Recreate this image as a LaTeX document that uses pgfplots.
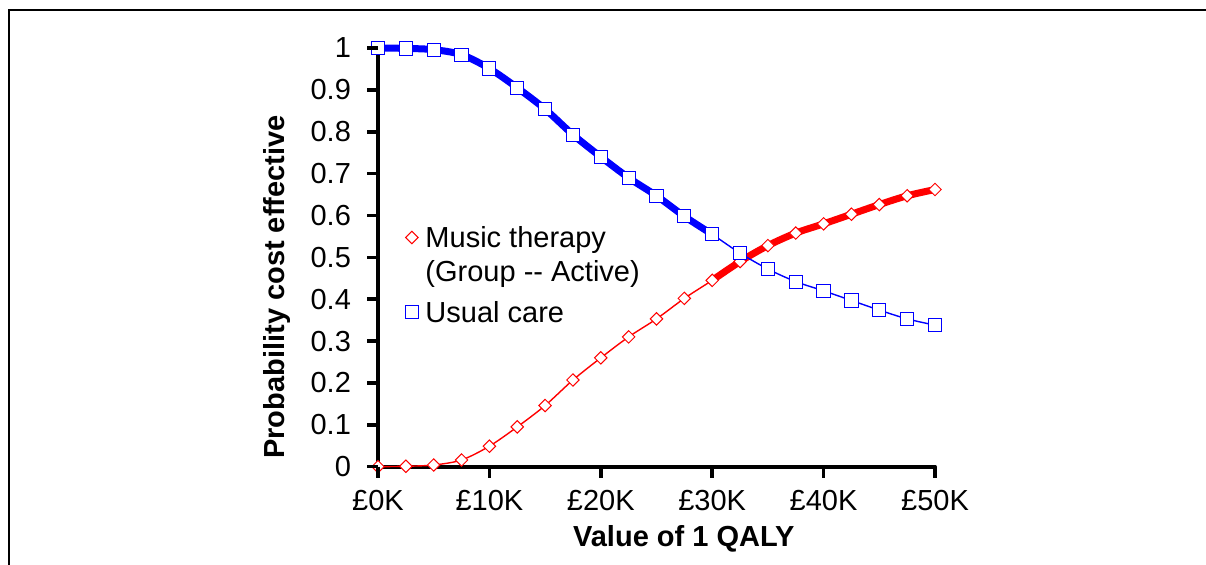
\documentclass[border=0pt]{standalone}
\usepackage{fontspec}
\setmainfont{Liberation Sans}
\usepackage{pgfplots}
\usepackage{pgfplotstable}
\pgfplotsset{compat=1.18}
\definecolor{xred}{RGB}{255,0,0}
\definecolor{xblue}{RGB}{0,0,255}
\newcommand{\lfs}{\fontsize{14.5}{16.7}\selectfont}

\pgfplotstableread{
x    red    blue
0    0.000  1.000
2.5  0.001  0.999
5    0.004  0.996
7.5  0.016  0.984
10   0.049  0.951
12.5 0.095  0.905
15   0.146  0.854
17.5 0.207  0.793
20   0.260  0.740
22.5 0.310  0.690
25   0.353  0.647
27.5 0.402  0.598
30   0.445  0.555
32.5 0.490  0.510
35   0.528  0.472
37.5 0.558  0.442
40   0.580  0.420
42.5 0.603  0.397
45   0.626  0.374
47.5 0.647  0.353
50   0.662  0.338
}\datatab

\begin{document}
\begin{tikzpicture}
% axis lines (left and bottom), drawn under the plot
\draw[black, line width=2pt, line cap=round] (189pt,258.5pt) -- (189pt,49.15pt) -- (467.5pt,49.15pt);
\begin{axis}[
  at={(189pt,49.15pt)}, anchor=south west,
  scale only axis, width=278.5pt, height=209.35pt,
  xmin=0, xmax=50, ymin=0, ymax=1,
  axis line style={draw=none},
  xtick pos=left, ytick pos=left,
  tick align=outside,
  major tick length=5pt,
  tick style={draw=none},
  xticklabel shift=3pt,
  yticklabel shift=5pt,
  xtick={0,10,20,30,40,50},
  xticklabels={£0K,£10K,£20K,£30K,£40K,£50K},
  ytick={0,0.1,0.2,0.3,0.4,0.5,0.6,0.7,0.8,0.9,1},
  yticklabels={0,0.1,0.2,0.3,0.4,0.5,0.6,0.7,0.8,0.9,1},
  font=\lfs,
  ticklabel style={font=\lfs},
  every axis x label/.style={at={(rel axis cs:0.549,0)}, yshift=-40pt, anchor=base},
  every axis y label/.style={at={(rel axis cs:0,0.429)}, xshift=-50.6pt, rotate=90, anchor=center},
  xlabel={\bfseries Value of 1 QALY},
  ylabel={\bfseries Probability cost effective},
  label style={font=\lfs\bfseries},
  clip=false,
  legend style={at={(rel axis cs:0.049,0.5885)}, anchor=north west, draw=none, fill=none,
    inner sep=0pt, outer sep=0pt, row sep=20pt, column sep=1.5pt,
    cells={anchor=base west, inner sep=0pt}, font=\lfs},
  legend image code/.code={\draw[#1, line width=0.5pt] plot coordinates {(0pt,5.1pt)};},
]
% thick frontier segment (red)
\addplot[xred, line width=3.5pt, smooth, no marks, forget plot,
  restrict x to domain=30:50] table[x=x, y=red] {\datatab};
% red series
\addplot[xred, line width=0.7pt, smooth, mark=square*,
  mark options={rotate=45, fill=white, draw=xred, line width=0.5pt, solid}, mark size=2.2pt]
  table[x=x, y=red] {\datatab};
\addlegendentry{\lfs\begin{tabular}[t]{@{}l@{}}Music therapy\\(Group -{}- Active)\end{tabular}}
% thick frontier segment (blue)
\addplot[xblue, line width=3.5pt, smooth, no marks, forget plot,
  restrict x to domain=0:30] table[x=x, y=blue] {\datatab};
% blue series
\addplot[xblue, line width=0.7pt, smooth, mark=square*,
  mark options={fill=white, draw=xblue, line width=0.5pt, solid}, mark size=3.3pt]
  table[x=x, y=blue] {\datatab};
\addlegendentry{\lfs\begin{tabular}[t]{@{}l@{}}Usual care\end{tabular}}
\end{axis}
% outward tick marks, explicit segments
\draw[black, line width=1.8pt, line cap=butt]
  (189pt,49.15pt) -- (189pt,43.5pt)
  (244.7pt,49.15pt) -- (244.7pt,43.5pt)
  (300.4pt,49.15pt) -- (300.4pt,43.5pt)
  (356.1pt,49.15pt) -- (356.1pt,43.5pt)
  (411.8pt,49.15pt) -- (411.8pt,43.5pt)
  (467.5pt,49.15pt) -- (467.5pt,43.5pt);
\draw[black, line width=1.8pt, line cap=butt]
  (189pt,49.15pt) -- (183.5pt,49.15pt)
  (189pt,70.085pt) -- (183.5pt,70.085pt)
  (189pt,91.02pt) -- (183.5pt,91.02pt)
  (189pt,111.955pt) -- (183.5pt,111.955pt)
  (189pt,132.89pt) -- (183.5pt,132.89pt)
  (189pt,153.825pt) -- (183.5pt,153.825pt)
  (189pt,174.76pt) -- (183.5pt,174.76pt)
  (189pt,195.695pt) -- (183.5pt,195.695pt)
  (189pt,216.63pt) -- (183.5pt,216.63pt)
  (189pt,237.565pt) -- (183.5pt,237.565pt)
  (189pt,258.5pt) -- (183.5pt,258.5pt);
\draw[line width=1pt] (4.5pt,-5pt) -- (4.5pt,277.3pt) -- (610pt,277.3pt);
\pgfresetboundingbox
\useasboundingbox (0,0) rectangle (603pt,282.5pt);
\end{tikzpicture}
\end{document}
